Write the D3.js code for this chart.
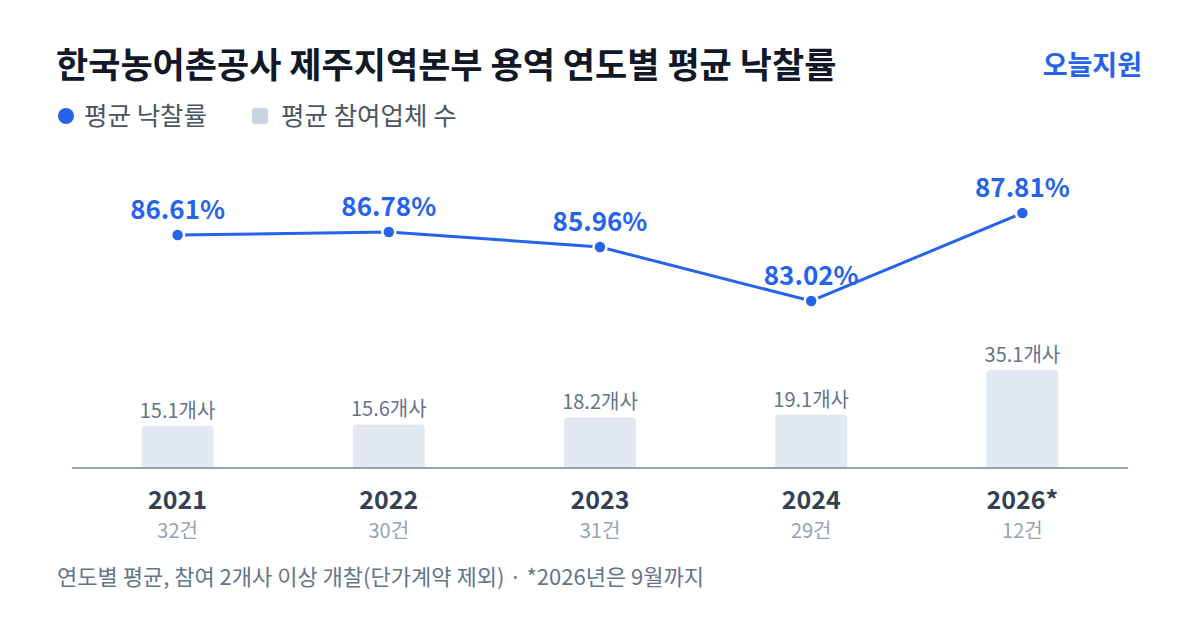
<!DOCTYPE html>
<html><head><meta charset="utf-8">
<script src="https://cdn.jsdelivr.net/npm/d3@7/dist/d3.min.js"></script>
<style>
html,body{margin:0;padding:0;background:#fff;}
svg{display:block;font-family:"Noto Sans CJK KR","Noto Sans",sans-serif;}
</style></head>
<body>
<svg id="c" width="1200" height="630"></svg>
<script>
const years = ["2021","2022","2023","2024","2026*"];
const counts = ["32건","30건","31건","29건","12건"];
const rates = [86.61, 86.78, 85.96, 83.02, 87.81];
const bidders = [15.1, 15.6, 18.2, 19.1, 35.1];

const svg = d3.select("#c");
const blue = "#2563eb";

svg.append("text").attr("x",56).attr("y",78).attr("font-size",35).attr("font-weight",700)
  .attr("fill","#111827").text("한국농어촌공사 제주지역본부 용역 연도별 평균 낙찰률");
svg.append("text").attr("x",1142).attr("y",75).attr("text-anchor","end").attr("font-size",27)
  .attr("font-weight",700).attr("fill",blue).text("오늘지원");

// legend
svg.append("circle").attr("cx",66).attr("cy",116).attr("r",8).attr("fill",blue);
svg.append("text").attr("x",84).attr("y",125).attr("font-size",25.5).attr("fill","#4b5563").text("평균 낙찰률");
svg.append("rect").attr("x",252).attr("y",108).attr("width",16).attr("height",16).attr("rx",3).attr("fill","#cbd5e1");
svg.append("text").attr("x",281).attr("y",125).attr("font-size",25.5).attr("fill","#4b5563").text("평균 참여업체 수");

const x = d3.scaleBand().domain(years).range([72,1128]).paddingInner(0.66).paddingOuter(0.33);
const base = 468;
const yb = d3.scaleLinear().domain([0,35.1]).range([base, base-98]);
const yl = d3.scaleLinear().domain([83.02,87.81]).range([301,213]);
const cx = d => x(d) + x.bandwidth()/2;

// bars
const bw = 72;
svg.selectAll("rect.bar").data(bidders).join("rect").attr("class","bar")
  .attr("x",(d,i)=>cx(years[i])-bw/2).attr("width",bw)
  .attr("y",d=>yb(d)).attr("height",d=>base-yb(d)+1).attr("rx",4).attr("fill","#e2e8f0");
svg.selectAll("text.bl").data(bidders).join("text").attr("class","bl")
  .attr("x",(d,i)=>cx(years[i])).attr("y",d=>yb(d)-8).attr("text-anchor","middle")
  .attr("font-size",20).attr("fill","#64748b").text(d=>d.toFixed(1)+"개사");

// axis line
svg.append("line").attr("x1",72).attr("x2",1128).attr("y1",base).attr("y2",base)
  .attr("stroke","#94a3b8").attr("stroke-width",2);

// x labels
svg.selectAll("text.yr").data(years).join("text").attr("class","yr")
  .attr("x",d=>cx(d)).attr("y",509).attr("text-anchor","middle").attr("font-size",25)
  .attr("font-weight",700).attr("fill","#334155").text(d=>d);
svg.selectAll("text.ct").data(counts).join("text").attr("class","ct")
  .attr("x",(d,i)=>cx(years[i])).attr("y",538).attr("text-anchor","middle").attr("font-size",20)
  .attr("fill","#94a3b8").text(d=>d);

// line
const line = d3.line().x((d,i)=>cx(years[i])).y(d=>yl(d));
svg.append("path").datum(rates).attr("d",line).attr("fill","none").attr("stroke",blue).attr("stroke-width",3);
svg.selectAll("circle.pt").data(rates).join("circle").attr("class","pt")
  .attr("cx",(d,i)=>cx(years[i])).attr("cy",d=>yl(d)).attr("r",6.5)
  .attr("fill",blue).attr("stroke","#fff").attr("stroke-width",2.5);
svg.selectAll("text.rl").data(rates).join("text").attr("class","rl")
  .attr("x",(d,i)=>cx(years[i])).attr("y",d=>yl(d)-16).attr("text-anchor","middle")
  .attr("font-size",26).attr("font-weight",700).attr("fill",blue).text(d=>d.toFixed(2)+"%");

// footer
svg.append("text").attr("x",57).attr("y",585).attr("font-size",22).attr("fill","#64748b")
  .text("연도별 평균, 참여 2개사 이상 개찰(단가계약 제외) · *2026년은 9월까지");
</script>
</body></html>
